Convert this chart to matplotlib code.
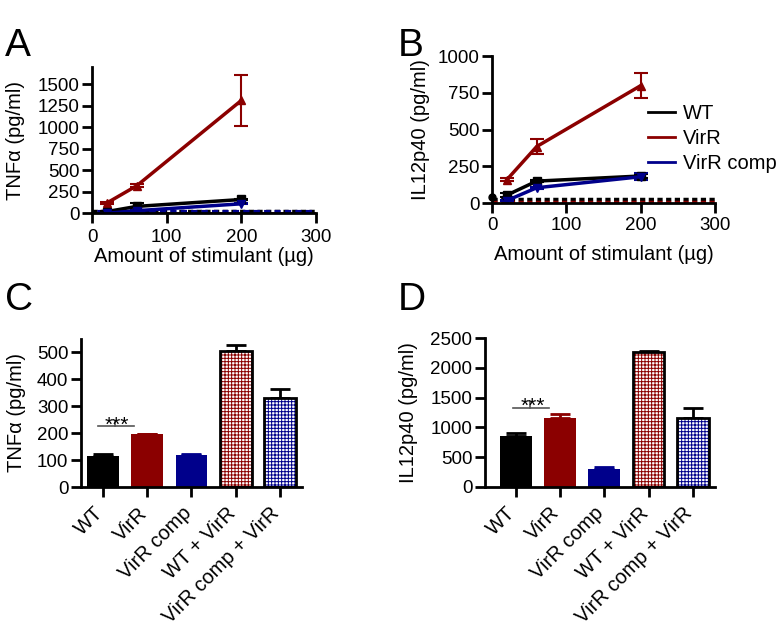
import numpy as np
import matplotlib
matplotlib.use('Agg')
import matplotlib.pyplot as plt
import matplotlib.transforms as mtrans
from matplotlib.lines import Line2D

plt.rcParams['font.family'] = ['Liberation Sans', 'DejaVu Sans']
plt.rcParams['hatch.linewidth'] = 0.7

RED = '#8b0000'
BLUE = '#00008b'

# ---- data, panels A/B (dose response) ----
dose = [20, 60, 200]
a_wt = [20, 80, 160]
a_wt_err = [5, 40, 10]
a_virr = [120, 320, 1310]
a_virr_err = [10, 15, 300]
a_comp = [0, 30, 110]
a_comp_err = [3, 5, 8]

b_wt = [55, 150, 185]
b_wt_err = [15, 8, 15]
b_virr = [160, 385, 800]
b_virr_err = [8, 50, 87]
b_comp = [18, 105, 180]
b_comp_err = [5, 6, 25]

# ---- data, panels C/D (bars) ----
groups = ['WT', 'VirR', 'VirR comp', 'WT + VirR', 'VirR comp + VirR']
c_vals = [116, 195, 120, 503, 330]
c_err = [5, 1, 3, 23, 35]
d_vals = [860, 1160, 298, 2277, 1165]
d_err = [50, 60, 35, 12, 157]

TICK = 13.5
LAB = 14.5


def style(ax):
    for s in ['top', 'right']:
        ax.spines[s].set_visible(False)
    for s in ['left', 'bottom']:
        ax.spines[s].set_linewidth(2)
        ax.spines[s].set_zorder(5)
    ax.tick_params(width=2, length=7, labelsize=TICK, pad=2)


fig = plt.figure(figsize=(7.83, 6.31), dpi=100)
ekw = dict(ms=6, lw=2.5, capsize=5, capthick=1.5, elinewidth=1.5)

# panel A
axA = fig.add_axes([0.1175, 0.662, 0.286, 0.232])
style(axA)
axA.axhline(0, color=RED, lw=2, zorder=1)
axA.axhline(26, color='black', lw=2.5, ls=(0, (1.5, 1)), zorder=1)
axA.axhline(14, color=BLUE, lw=3, ls=(1.2, (1.5, 1)), zorder=1)
axA.errorbar(dose, a_virr, yerr=a_virr_err, color=RED, marker='^', **ekw)
axA.errorbar(dose, a_wt, yerr=a_wt_err, color='black', marker='s', **ekw)
axA.errorbar(dose, a_comp, yerr=a_comp_err, color=BLUE, marker='v', **ekw)
axA.set_xlim(0, 300)
axA.set_ylim(0, 1700)
axA.set_xticks([0, 100, 200, 300])
axA.set_yticks([0, 250, 500, 750, 1000, 1250, 1500])
axA.tick_params(axis='x', pad=4)
axA.set_xlabel('Amount of stimulant (µg)', fontsize=LAB, labelpad=1)
axA.set_ylabel('TNFα (pg/ml)', fontsize=LAB)
axA.yaxis.set_label_coords(-0.30, 0.5)

# panel B
axB = fig.add_axes([0.6284, 0.678, 0.285, 0.233])
style(axB)
axB.axhline(30, color='black', lw=2.5, ls=(0, (1.5, 1)), zorder=1)
axB.axhline(5, color=RED, lw=2.5, ls=(0, (1.5, 1)), zorder=1)
axB.plot([0], [45], 'o', color='black', ms=5, clip_on=False, zorder=6)
axB.errorbar(dose, b_wt, yerr=b_wt_err, color='black', marker='s', label='WT', **ekw)
axB.errorbar(dose, b_virr, yerr=b_virr_err, color=RED, marker='^', label='VirR', **ekw)
axB.errorbar(dose, b_comp, yerr=b_comp_err, color=BLUE, marker='v', label='VirR comp', **ekw)
axB.set_xlim(0, 300)
axB.set_ylim(0, 1000)
axB.set_xticks([0, 100, 200, 300])
axB.set_yticks([0, 250, 500, 750, 1000])
axB.tick_params(axis='x', pad=3)
axB.set_xlabel('Amount of stimulant (µg)', fontsize=LAB, labelpad=8)
axB.set_ylabel('IL12p40 (pg/ml)', fontsize=LAB)
axB.yaxis.set_label_coords(-0.28, 0.5)
h, l = axB.get_legend_handles_labels()
hh = [Line2D([], [], color=c, lw=2) for c in ['black', RED, BLUE]]
axB.legend(hh, l, loc='upper left', bbox_to_anchor=(0.655, 0.745), frameon=False,
           fontsize=14.5, handlelength=1.35, handletextpad=0.35, labelspacing=0.3, borderpad=0)


def bars(ax, vals, err, ymax, yticks, ylabel, xl, lx):
    style(ax)
    x = np.arange(len(groups))
    w = 0.72
    for i, c in zip([0, 1, 2], ['black', RED, BLUE]):
        ax.bar(x[i], vals[i], w, color=c, zorder=2)
        ax.errorbar(x[i], vals[i], yerr=[[0], [err[i]]], color=c, capsize=7, capthick=2, elinewidth=2, zorder=1)
    for i, c in zip([3, 4], [RED, BLUE]):
        ax.errorbar(x[i], vals[i], yerr=[[0], [err[i]]], color='black', capsize=7, capthick=2, elinewidth=2, zorder=1)
        ax.bar(x[i], vals[i], w, color='white', edgecolor=c, hatch='+++++', lw=0, zorder=2)
        ax.bar(x[i], vals[i], w, fill=False, edgecolor='black', lw=2, zorder=3)
    ax.set_xlim(xl, 4.5)
    ax.set_ylim(0, ymax)
    ax.set_yticks(yticks)
    ax.set_xticks(x)
    ax.set_xticklabels(groups, rotation=45, ha='right', rotation_mode='anchor', fontsize=LAB)
    ax.tick_params(axis='x', pad=5)
    off = mtrans.ScaledTranslation(-10 / 100, 0, fig.dpi_scale_trans)
    for t in ax.get_xticklabels():
        t.set_transform(t.get_transform() + off)
    ax.set_ylabel(ylabel, fontsize=LAB)
    ax.yaxis.set_label_coords(lx, 0.5)


# panel C
axC = fig.add_axes([0.1034, 0.2282, 0.2823, 0.235])
bars(axC, c_vals, c_err, 550, [0, 100, 200, 300, 400, 500], 'TNFα (pg/ml)', -0.5, -0.25)
axC.plot([-0.12, 0.70], [225, 225], color='#555555', lw=1.2)
axC.plot([0.27, 0.27], [225, 246], color='#555555', lw=1.2)
axC.text(0.31, 210, '***', ha='center', va='baseline', fontsize=15)

# panel D
axD = fig.add_axes([0.6194, 0.2287, 0.2936, 0.2352])
bars(axD, d_vals, d_err, 2500, [0, 500, 1000, 1500, 2000, 2500], 'IL12p40 (pg/ml)', -0.7, -0.29)
axD.plot([-0.07, 0.75], [1332, 1332], color='#555555', lw=1.2)
axD.plot([0.32, 0.32], [1332, 1433], color='#555555', lw=1.2)
axD.text(0.38, 1255, '***', ha='center', va='baseline', fontsize=15)

for t, x, y in [('A', 0.006, 0.912), ('B', 0.508, 0.912), ('C', 0.006, 0.508), ('D', 0.508, 0.508)]:
    fig.text(x, y, t, fontsize=28, va='baseline')

fig.savefig('out.png', dpi=100)
